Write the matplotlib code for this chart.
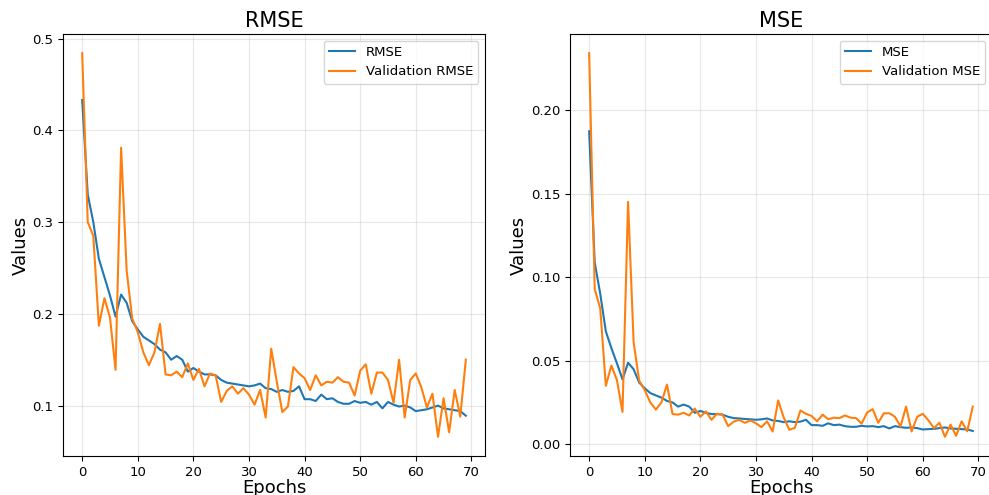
import matplotlib
matplotlib.use("Agg")
import matplotlib.pyplot as plt
import numpy as np

epochs = list(range(70))

rmse = [0.433, 0.330, 0.300, 0.260, 0.240, 0.220, 0.197, 0.221, 0.212, 0.192,
        0.183, 0.175, 0.171, 0.167, 0.161, 0.158, 0.150, 0.154, 0.150, 0.137,
        0.141, 0.137, 0.134, 0.134, 0.133, 0.128, 0.125, 0.124, 0.123, 0.122,
        0.121, 0.122, 0.124, 0.119, 0.118, 0.115, 0.117, 0.115, 0.116, 0.121,
        0.107, 0.107, 0.105, 0.112, 0.107, 0.108, 0.104, 0.102, 0.102, 0.105,
        0.103, 0.104, 0.101, 0.104, 0.097, 0.104, 0.101, 0.099, 0.100, 0.098,
        0.094, 0.095, 0.096, 0.098, 0.100, 0.097, 0.096, 0.095, 0.094, 0.089]

val_rmse = [0.484, 0.300, 0.285, 0.187, 0.217, 0.196, 0.139, 0.381, 0.247, 0.195,
            0.180, 0.158, 0.144, 0.158, 0.189, 0.134, 0.133, 0.137, 0.131, 0.146,
            0.128, 0.140, 0.121, 0.135, 0.133, 0.104, 0.116, 0.121, 0.113, 0.119,
            0.112, 0.101, 0.117, 0.087, 0.162, 0.126, 0.093, 0.099, 0.142, 0.135,
            0.130, 0.117, 0.133, 0.122, 0.126, 0.125, 0.131, 0.126, 0.125, 0.111,
            0.138, 0.145, 0.113, 0.136, 0.136, 0.128, 0.103, 0.150, 0.087, 0.128,
            0.135, 0.120, 0.098, 0.113, 0.066, 0.108, 0.071, 0.117, 0.088, 0.150]

mse = [0.1875, 0.1089, 0.0900, 0.0676, 0.0576, 0.0484, 0.0388, 0.0488, 0.0449, 0.0369,
       0.0335, 0.0306, 0.0292, 0.0279, 0.0259, 0.0250, 0.0225, 0.0237, 0.0225, 0.0188,
       0.0199, 0.0188, 0.0180, 0.0180, 0.0177, 0.0164, 0.0156, 0.0154, 0.0151, 0.0149,
       0.0146, 0.0149, 0.0154, 0.0142, 0.0139, 0.0132, 0.0137, 0.0132, 0.0135, 0.0146,
       0.0114, 0.0114, 0.0110, 0.0125, 0.0114, 0.0117, 0.0108, 0.0104, 0.0104, 0.0110,
       0.0106, 0.0108, 0.0102, 0.0108, 0.0094, 0.0108, 0.0102, 0.0098, 0.0100, 0.0096,
       0.0088, 0.0090, 0.0092, 0.0096, 0.0100, 0.0094, 0.0092, 0.0090, 0.0088, 0.0079]

val_mse = [0.2343, 0.0930, 0.0812, 0.0350, 0.0471, 0.0384, 0.0193, 0.1452, 0.0610, 0.0380,
           0.0324, 0.0250, 0.0207, 0.0250, 0.0357, 0.0180, 0.0177, 0.0188, 0.0172, 0.0213,
           0.0164, 0.0196, 0.0146, 0.0182, 0.0177, 0.0108, 0.0135, 0.0146, 0.0128, 0.0142,
           0.0125, 0.0102, 0.0137, 0.0076, 0.0262, 0.0159, 0.0086, 0.0098, 0.0202, 0.0182,
           0.0169, 0.0137, 0.0177, 0.0149, 0.0159, 0.0156, 0.0172, 0.0159, 0.0156, 0.0123,
           0.0190, 0.0210, 0.0128, 0.0185, 0.0185, 0.0164, 0.0106, 0.0225, 0.0076, 0.0164,
           0.0182, 0.0144, 0.0096, 0.0128, 0.0044, 0.0117, 0.0050, 0.0137, 0.0077, 0.0225]

fig = plt.figure(figsize=(9.89, 4.95), dpi=100)
ax1 = fig.add_axes([0.0637, 0.0788, 0.4267, 0.8525])
ax2 = fig.add_axes([0.5763, 0.0788, 0.4267, 0.8525])

panels = [
    (ax1, rmse, val_rmse, "RMSE", "Validation RMSE", "RMSE"),
    (ax2, mse, val_mse, "MSE", "Validation MSE", "MSE"),
]
for ax, tr, va, l1, l2, title in panels:
    ax.plot(epochs, tr, color="#1f77b4", lw=1.5, label=l1)
    ax.plot(epochs, va, color="#ff7f0e", lw=1.5, label=l2)
    ax.set_title(title, fontsize=15, pad=5)
    ax.set_xlabel("Epochs", fontsize=13, labelpad=0)
    ax.set_ylabel("Values", fontsize=13, labelpad=2)
    ax.grid(True, alpha=0.3)
    ax.legend(loc="upper right", fontsize=9.5)
    ax.tick_params(labelsize=9.5)

ax2.yaxis.set_major_formatter(matplotlib.ticker.FormatStrFormatter("%.2f"))

fig.savefig("out.png", dpi=100)
